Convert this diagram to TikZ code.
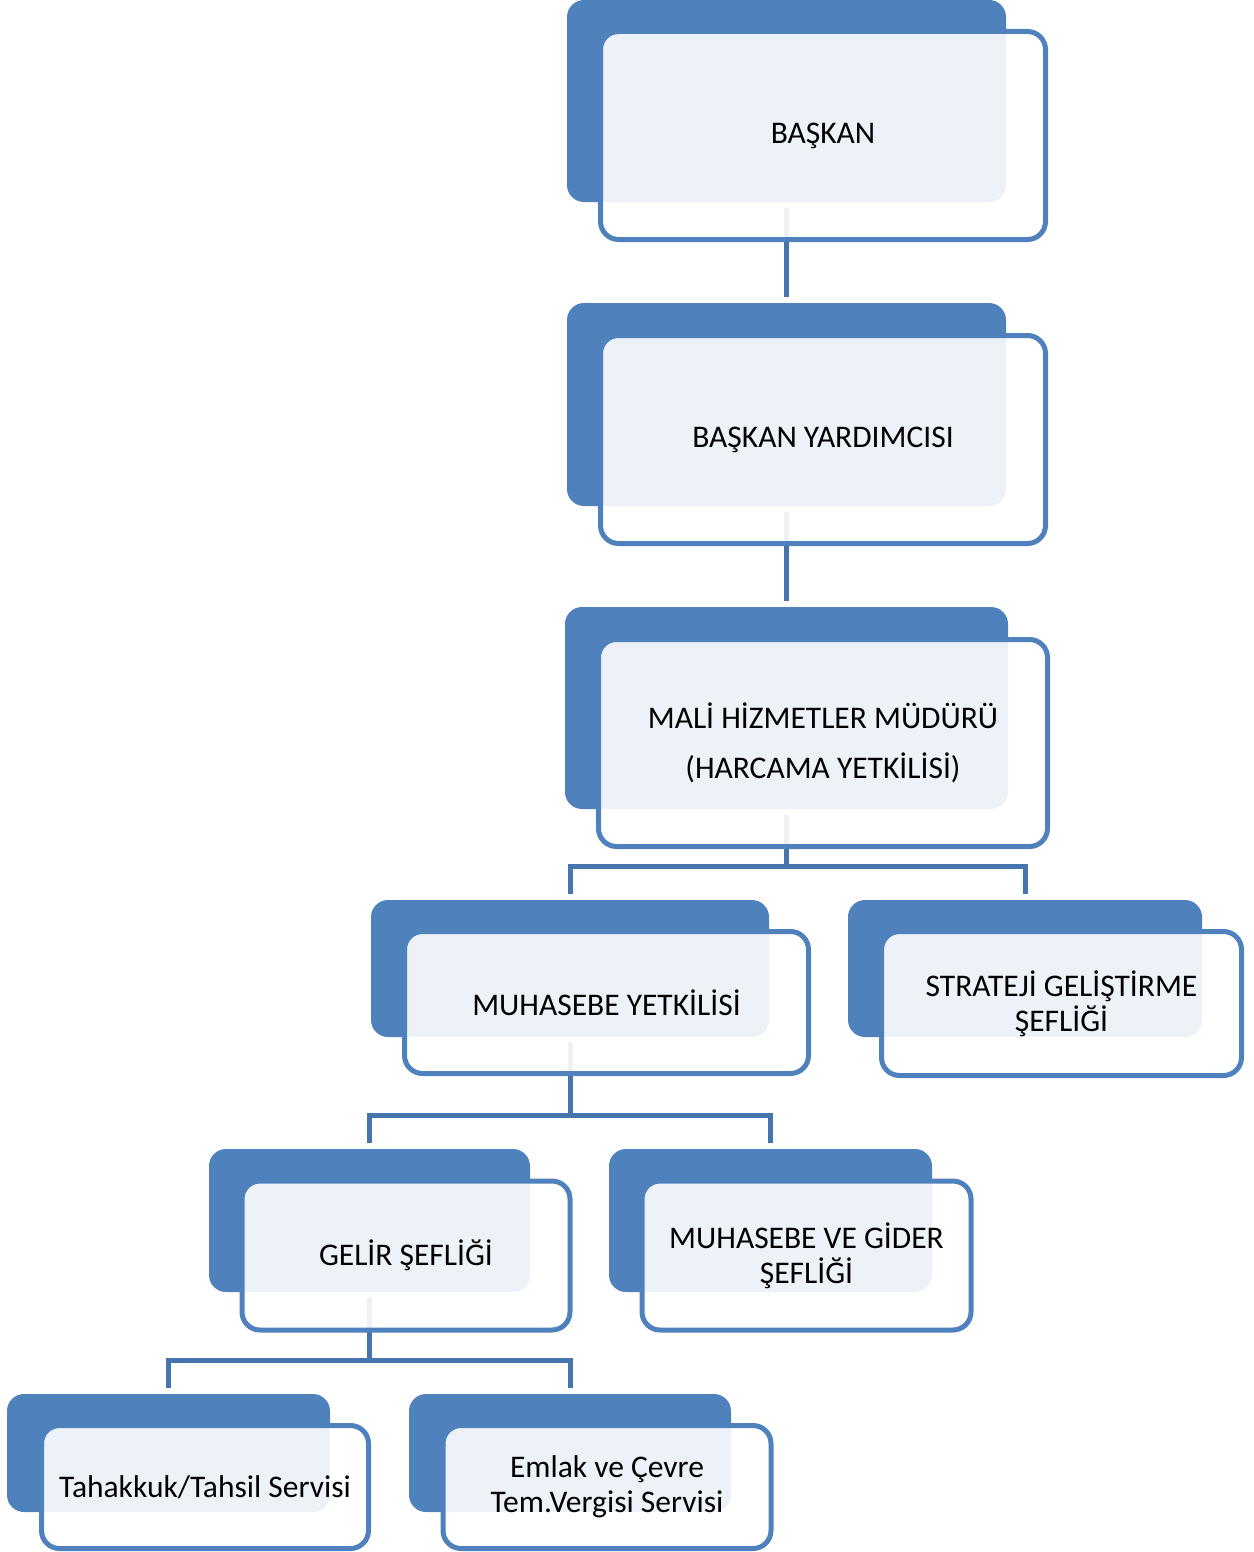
\documentclass[tikz,border=0pt]{standalone}
\usepackage{fontspec}
\setmainfont{Carlito}
\definecolor{boxblue}{HTML}{4F81BD}
\definecolor{linkblue}{HTML}{4674AD}
\begin{document}
\begin{tikzpicture}[x=1pt,y=-1pt,
  backbox/.style={rectangle, fill=boxblue, draw=none, rounded corners=17pt, inner sep=0pt},
  frontbox/.style={rectangle, draw=boxblue, line width=5pt, fill=white, fill opacity=0.9, text opacity=1, rounded corners=18pt, inner sep=0pt, align=center, font=\fontsize{31.5}{35}\selectfont},
  conn/.style={draw=linkblue, line width=5pt}]
\useasboundingbox (0,0) rectangle (1253,1552);

% back boxes
\node[backbox, minimum width=439pt, minimum height=202pt] (d1) at (786.5,101) {};
\node[backbox, minimum width=439pt, minimum height=203pt] (d2) at (786.5,404.5) {};
\node[backbox, minimum width=443pt, minimum height=202pt] (d3) at (786.5,708) {};
\node[backbox, minimum width=398pt, minimum height=137pt] (d4) at (570,968.5) {};
\node[backbox, minimum width=354pt, minimum height=137pt] (d5) at (1025,968.5) {};
\node[backbox, minimum width=321pt, minimum height=143pt] (d6) at (369.5,1220.5) {};
\node[backbox, minimum width=323pt, minimum height=143pt] (d7) at (770.5,1220.5) {};
\node[backbox, minimum width=323pt, minimum height=118pt] (d8) at (168.5,1453) {};
\node[backbox, minimum width=322pt, minimum height=118pt] (d9) at (570,1453) {};

% connectors
\coordinate (bus3) at (786.5,866);
\coordinate (bus4) at (570,1115);
\coordinate (bus6) at (369.5,1360);
\draw[conn] ([yshift=-6pt]d1.south) -- ([yshift=6pt]d2.north);
\draw[conn] ([yshift=-6pt]d2.south) -- ([yshift=6pt]d3.north);
\draw[conn] ([yshift=-6pt]d3.south) -- (bus3);
\draw[conn] ([yshift=6pt]d4.north) |- (bus3) -| ([yshift=6pt]d5.north);
\draw[conn] ([yshift=-5pt]d4.south) -- (bus4);
\draw[conn] ([yshift=6pt]d6.north) |- (bus4) -| ([yshift=6pt]d7.north);
\draw[conn] ([yshift=-6pt]d6.south) -- (bus6);
\draw[conn] ([yshift=6pt]d8.north) |- (bus6) -| ([yshift=6pt]d9.north);

% front boxes
\node[frontbox, minimum width=445pt, minimum height=208pt] (f1) at (823,135.5) {BAŞKAN};
\node[frontbox, minimum width=445pt, minimum height=208pt] (f2) at (823,439.5) {BAŞKAN YARDIMCISI};
\node[frontbox, minimum width=449pt, minimum height=207pt] (f3) at (823,743) {MALİ HİZMETLER MÜDÜRÜ\\[15pt](HARCAMA YETKİLİSİ)};
\node[frontbox, minimum width=404pt, minimum height=142pt] (f4) at (606.5,1002.5) {MUHASEBE YETKİLİSİ};
\node[frontbox, minimum width=360pt, minimum height=144pt] (f5) at (1061.5,1003.5) {STRATEJİ GELİŞTİRME\\ŞEFLİĞİ};
\node[frontbox, minimum width=328pt, minimum height=149pt] (f6) at (406,1255.5) {GELİR ŞEFLİĞİ};
\node[frontbox, minimum width=329pt, minimum height=149pt] (f7) at (806.5,1255.5) {MUHASEBE VE GİDER\\ŞEFLİĞİ};
\node[frontbox, minimum width=327pt, minimum height=123pt] (f8) at (205,1487) {Tahakkuk/Tahsil Servisi};
\node[frontbox, minimum width=328pt, minimum height=123pt] (f9) at (607,1487) {Emlak ve Çevre\\Tem.Vergisi Servisi};
\end{tikzpicture}
\end{document}
